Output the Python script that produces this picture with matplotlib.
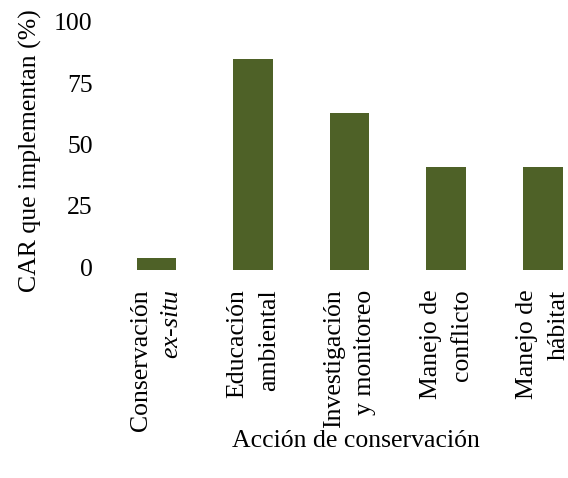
import matplotlib
matplotlib.use("Agg")
import matplotlib.pyplot as plt
from matplotlib.transforms import ScaledTranslation

plt.rcParams['font.family'] = ['Liberation Serif', 'DejaVu Serif']
plt.rcParams['mathtext.fontset'] = 'custom'
plt.rcParams['mathtext.rm'] = 'Liberation Serif'
plt.rcParams['mathtext.it'] = 'Liberation Serif:italic'

# acciones de conservación y porcentaje de CAR que las implementan
acciones = ['Conservación\n$\\it{ex}$-$\\it{situ}$', 'Educación\nambiental',
            'Investigación\ny monitoreo', 'Manejo de\nconflicto', 'Manejo de\nhábitat']
porcentaje = [5, 86, 64, 42, 42]
yticks = [0, 25, 50, 75, 100]

fig = plt.figure(figsize=(5.68, 4.78), dpi=100)
ax = fig.add_axes([108 / 568, 208 / 478, 460 / 568, 245 / 478])

ax.bar(range(len(acciones)), porcentaje, width=0.41, color='#4e6127')
ax.set_xlim(-0.5, 4.26)
ax.set_ylim(0, 100)
ax.set_yticks(yticks)
ax.set_xticks(range(len(acciones)))
ax.set_xticklabels(acciones, rotation=90, ha='center', va='top',
                   multialignment='right', fontsize=18.5, linespacing=1.55)
ax.tick_params(axis='x', length=0, pad=14)
ax.tick_params(axis='y', length=0, pad=11, labelsize=18.5)
# etiquetas del eje y un poco más arriba, como en el original
up = ScaledTranslation(0, 3 / 100, fig.dpi_scale_trans)
for lab in ax.get_yticklabels():
    lab.set_transform(lab.get_transform() + up)
for s in ax.spines.values():
    s.set_visible(False)

fig.text(30 / 568, 1 - 151 / 478, 'CAR que implementan (%)', rotation=90,
         ha='center', va='center', fontsize=18.5)
fig.text(356 / 568, 1 - 441 / 478, 'Acción de conservación',
         ha='center', va='center', fontsize=18.5)

fig.savefig('out.png', dpi=100)
